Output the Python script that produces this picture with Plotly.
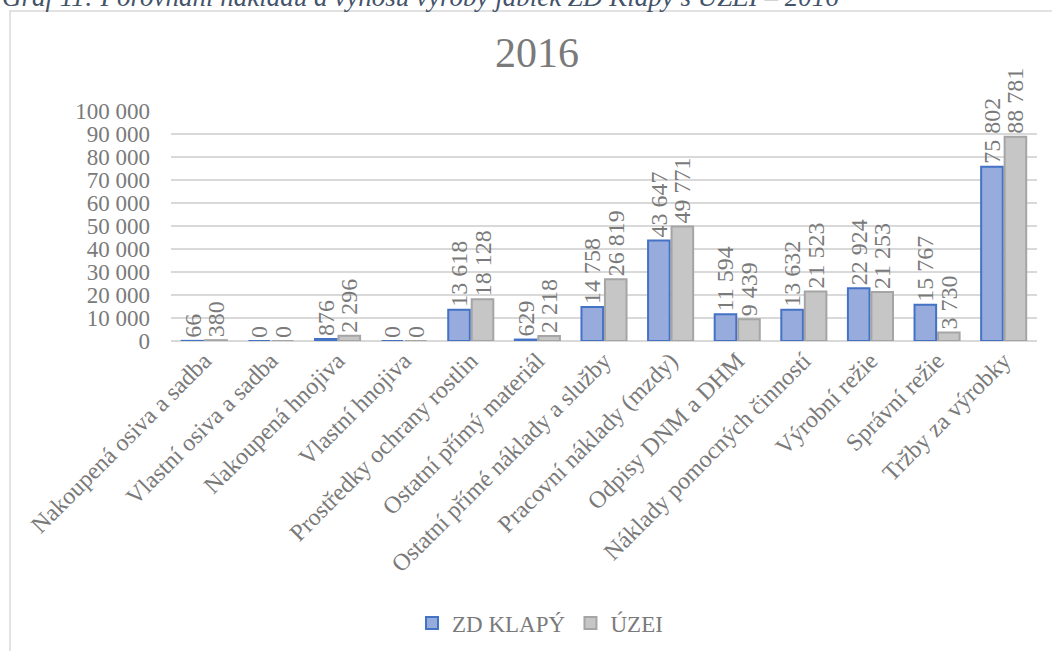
import plotly.graph_objects as go

# data
categories = ["Nakoupená osiva a sadba", "Vlastní osiva a sadba", "Nakoupená hnojiva",
              "Vlastní hnojiva", "Prostředky ochrany rostlin", "Ostatní přímý materiál",
              "Ostatní přímé náklady a služby", "Pracovní náklady (mzdy)", "Odpisy DNM a DHM",
              "Náklady pomocných činností", "Výrobní režie", "Správní režie", "Tržby za výrobky"]
zd_klapy = [66, 0, 876, 0, 13618, 629, 14758, 43647, 11594, 13632, 22924, 15767, 75802]
uzei = [380, 0, 2296, 0, 18128, 2218, 26819, 49771, 9439, 21523, 21253, 3730, 88781]

FONT = "Liberation Serif"
GREY = "#7a7a7a"
FS = 24
W, H = 1052, 651
L, R, T, B = 171, 15, 111, 310
PW, PH = W - L - R, H - T - B

def px(x):
    return (x - L) / PW

def py(y):
    return (H - B - y) / PH

fig = go.Figure()
fig.add_trace(go.Bar(x=categories, y=zd_klapy, name="ZD KLAPÝ",
                     marker=dict(color="#97abdd", line=dict(color="#4472c4", width=2)),
                     texttemplate="%{y:,.0f}", textposition="outside", textangle=-90,
                     cliponaxis=False, constraintext="none",
                     textfont=dict(family=FONT, size=FS, color=GREY)))
fig.add_trace(go.Bar(x=categories, y=uzei, name="ÚZEI",
                     marker=dict(color="#c6c6c6", line=dict(color="#a5a5a5", width=2)),
                     texttemplate="%{y:,.0f}", textposition="outside", textangle=-90,
                     cliponaxis=False, constraintext="none",
                     textfont=dict(family=FONT, size=FS, color=GREY)))

# frame around the chart
fig.add_shape(type="rect", xref="paper", yref="paper",
              x0=px(10), x1=px(1070), y0=py(700), y1=py(11),
              line=dict(color="#d9d9d9", width=1.5), layer="below")

# caption above the chart (cut off in the source)
fig.add_annotation(xref="paper", yref="paper", x=px(0), y=py(14),
                   xanchor="left", yanchor="bottom", showarrow=False,
                   text="<i>Graf 11: Porovnání nákladů a výnosů výroby jablek ZD Klapý s ÚZEI – 2016</i>",
                   font=dict(family=FONT, size=27, color="#44546a"))

fig.update_layout(
    width=W, height=H,
    margin=dict(l=L, r=R, t=T, b=B, autoexpand=False),
    paper_bgcolor="white", plot_bgcolor="white",
    separators=", ",
    font=dict(family=FONT, size=FS, color=GREY),
    title=dict(text="2016", x=537 / W, xref="container", xanchor="center",
               y=1 - 52.5 / H, yref="container", yanchor="middle",
               font=dict(family=FONT, size=42, color=GREY)),
    barmode="group", bargap=0.295, bargroupgap=0.08,
    showlegend=True,
    legend=dict(orientation="h", xref="container", yref="container",
                x=540 / W, xanchor="center", y=1 - 623 / H, yanchor="middle",
                font=dict(family=FONT, size=23, color=GREY), itemwidth=30),
)
fig.update_xaxes(tickangle=-45, showgrid=False, showline=False, ticks="", automargin=False,
                 tickfont=dict(family=FONT, size=FS, color=GREY))
fig.update_yaxes(range=[0, 100000], dtick=10000, tickformat=",d", automargin=False,
                 gridcolor="#d9d9d9", gridwidth=1.5, zeroline=True, zerolinecolor="#d9d9d9",
                 zerolinewidth=1.5, showline=False, ticklabelstandoff=20,
                 tickfont=dict(family=FONT, size=23, color=GREY))

# page has a default 8px body margin; drop it so the figure fills the window
fig.write_html("out.html", config={"displayModeBar": False},
               post_script="document.body.style.margin='0';")
